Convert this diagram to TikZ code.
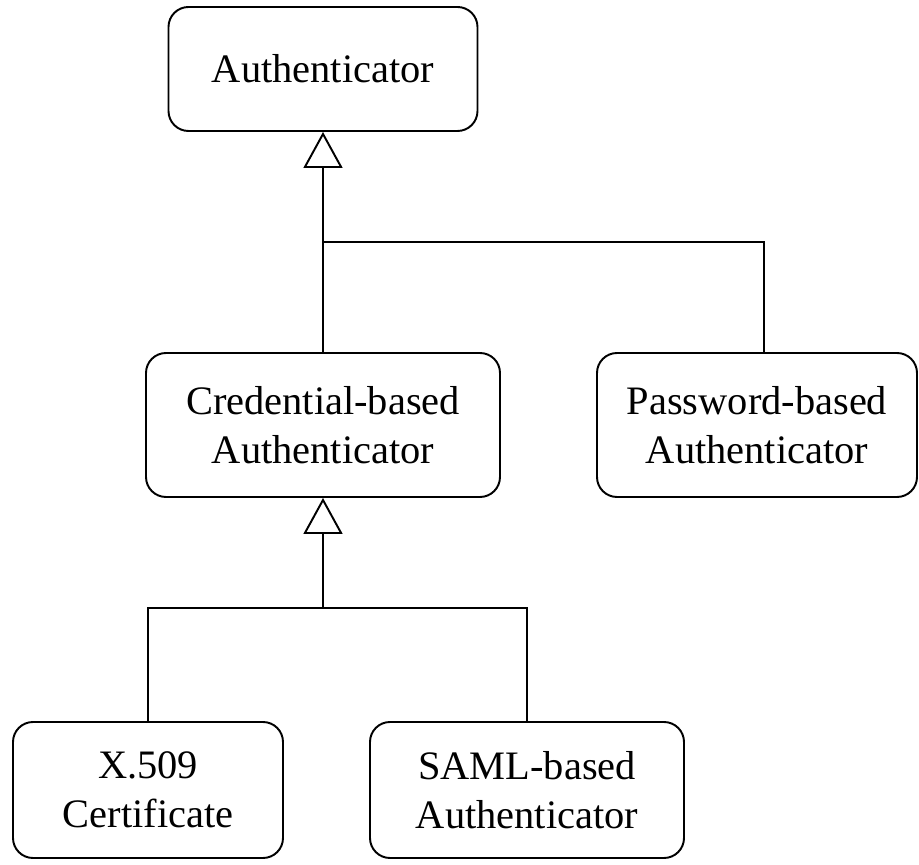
\documentclass[tikz,border=0pt]{standalone}
\usepackage{fontspec}
\setmainfont{Liberation Serif}
\usetikzlibrary{arrows.meta}

\tikzset{
  cls/.style={draw, rounded corners=0.4cm, align=center, line width=1.1pt,
    font=\fontsize{23}{28}\selectfont, inner sep=0pt},
  inherit/.style={line width=0.85pt, -{Triangle[open, length=0.72cm, width=0.78cm, line width=1.1pt]}},
  link/.style={line width=0.85pt}
}

\begin{document}
\begin{tikzpicture}
    \useasboundingbox (0,0) rectangle (18.38,-17.3);

    % classes
    \node[cls, minimum width=6.18cm, minimum height=2.48cm] (auth) at (6.46, -1.38) {Authenticator};
    \node[cls, minimum width=7.08cm, minimum height=2.88cm] (cred) at (6.46, -8.5) {Credential-based\\Authenticator};
    \node[cls, minimum width=6.4cm, minimum height=2.88cm] (pwd) at (15.14, -8.5) {Password-based\\Authenticator};
    \node[cls, minimum width=5.4cm, minimum height=2.72cm] (x509) at (2.96, -15.8) {X.509\\Certificate};
    \node[cls, minimum width=6.28cm, minimum height=2.72cm] (saml) at (10.54, -15.8) {SAML-based\\Authenticator};

    % junctions
    \coordinate (jA) at (6.46, -4.84);
    \coordinate (jC) at (6.46, -12.16);
    \coordinate (pwdTop) at (15.28, -7.06);

    % generalisation
    \draw[inherit] (cred.north) -- (auth.south);
    \draw[link] (jA) -| (pwdTop);

    \draw[inherit] (jC) -- (cred.south);
    \draw[link] (x509.north) |- (jC) -| (saml.north);
\end{tikzpicture}
\end{document}
